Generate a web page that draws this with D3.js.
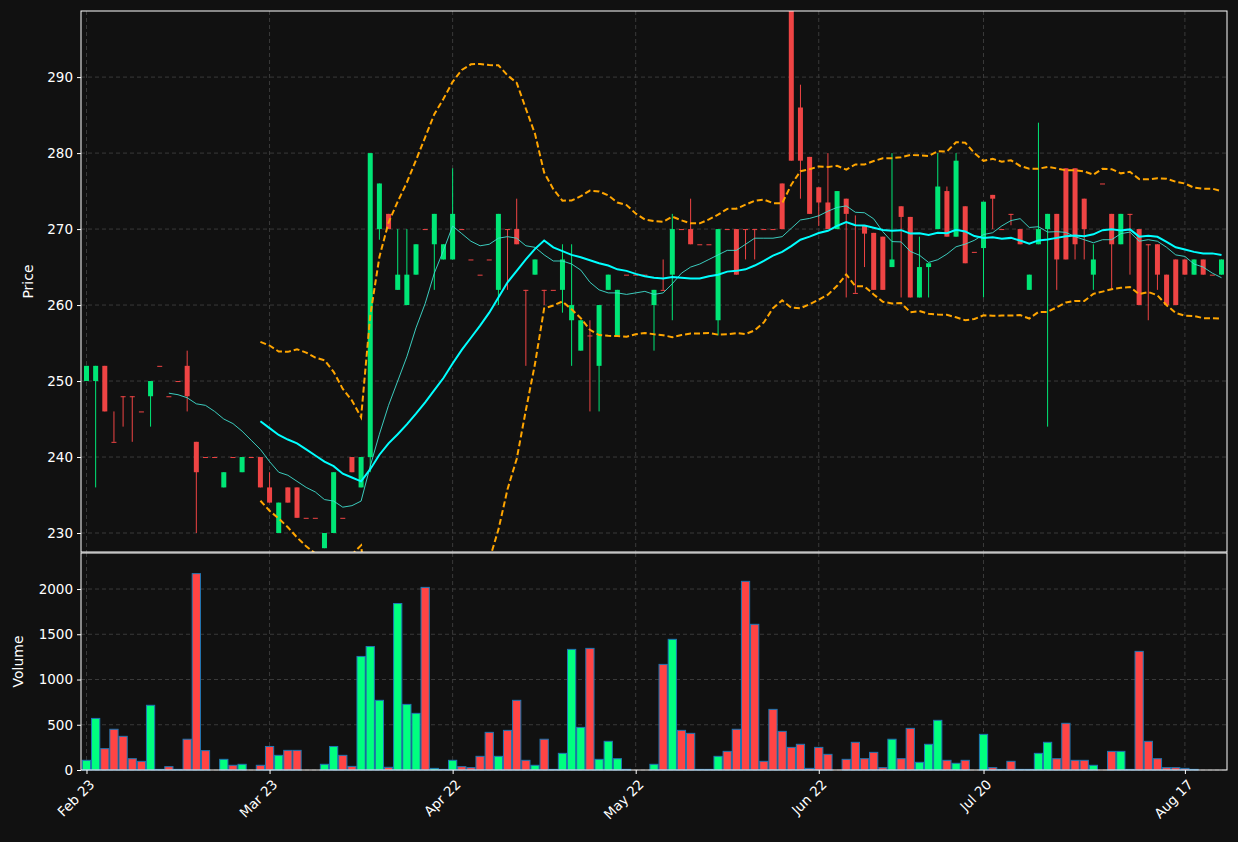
<!DOCTYPE html>
<html>
<head>
<meta charset="utf-8">
<script src="https://cdn.jsdelivr.net/npm/d3@7"></script>
<style>
  body { margin: 0; background: #111111; }
  svg text { font-family: "DejaVu Sans", sans-serif; fill: #ffffff; }
</style>
</head>
<body>
<div id="chart"></div>
<script>
// daily bars
const opens = [250,250,252,242,248,248,246,248,252,248,250,252,242,240,240,236,240,238,240,240,
  236,230,236,236,232,232,228,230,232,240,236,240,270,272,262,260,264,270,268,266,
  266,270,266,264,266,262,270,270,262,264,262,262,262,258,254,256,252,262,256,264,
  264,264,260,262,264,270,270,268,268,258,270,270,270,270,270,270,276,299,286,279.5,
  275.5,273.5,270,274,261.6,270.5,269.5,269,265,273,271.6,261,265,270,275,269,273,267,267.5,274.5,
  270,272,270,262,268,270,272,278,278,274,264,276,272,268,272,270,268,268,264,266,
  266,264,266,264,264];
const highs = [252,252,252,246,248,248,246,250,252,248,250,254,242,240,240,238,240,240,240,240,
  238,234,236,236,232,232,230,238,232,240,240,280,276,272,270,270,268,270,272,268,
  278,270,266,264,266,272,270,274,262,266,262,262,268,268,258,258,260,264,262,264,
  264,264,262,266,272,270,274,268,268,270,270,270,270,270,270,270,276,299,289,279.5,
  275.5,280,275,274,271.8,270.5,269.5,269,280,273,271.6,269,265.5,280,275.6,280,273,267,273.6,274.5,
  270,272,270,264,284,272,272,278,278,274,268,276,272,272,272,270,268,268,264,266,
  266,266,266,264,266];
const lows = [250,236,246,242,244,242,246,244,252,248,250,246,230,240,240,236,240,238,240,236,
  234,230,234,232,232,232,228,230,232,238,236,238,268.6,270,262,260,264,270,262,266,
  266,270,266,264,266,260,262,268,252,264,260,262,259,252,254,246,246,262,256,264,
  264,264,254,262,258,270,268,268,268,256,270,264,266,266,270,270,270,279,274,272,
  270.4,270,270,261,261.6,265,262,262,265,261,261,261,261,270,269,269,265.5,267,261,270,
  270,270.5,268,262,268,244,262,266,266,266,262,276,262,268,264,260,258,262,260,260,
  264,264,264,264,264];
const closes = [252,252,246,242,248,248,246,250,252,248,250,248,238,240,240,238,240,240,240,236,
  234,234,234,232,232,232,230,238,232,238,240,280,276,270,264,264,268,270,272,268,
  272,270,266,264,266,272,270,268,262,266,262,262,266,260,258,256,260,264,262,264,
  264,264,262,262,270,270,268,268,268,270,270,264,270,270,270,270,270,279,279,272,
  273.5,270,275,272,261.6,269.4,262,262,266,271.6,261,265,265.5,275.6,269,279,265.5,267,273.6,274,
  270,272,268,264,270,272,266,266,268,270,266,276,268,272,272,260,268,264,260,260,
  264,266,264,264,266];
const volumes = [107,570,236,450,372,125,96,715,7,37,7,340,2170,214,0,118,52,63,0,52,
  260,162,217,217,0,0,63,260,162,40,1255,1365,770,30,1840,725,626,2018,18,7,
  107,37,26,151,416,151,438,770,107,52,340,7,184,1333,471,1344,118,317,125,7,
  0,0,63,1167,1444,438,405,7,7,151,206,450,2085,1610,96,670,427,250,284,18,
  250,173,0,118,306,125,195,26,340,125,460,85,284,549,107,74,107,0,394,26,
  7,96,7,7,184,306,125,516,107,107,52,0,206,206,7,1311,317,125,26,26,
  18,7,0,0,0];
const tickIdx = [0, 20, 40, 60, 80, 98, 120];
const tickLabels = ['Feb 23', 'Mar 23', 'Apr 22', 'May 22', 'Jun 22', 'Jul 20', 'Aug 17'];
const priceTicks = [230, 240, 250, 260, 270, 280, 290];
const volumeTicks = [0, 500, 1000, 1500, 2000];

const W = 1238, H = 842;
const left = 81, right = 1227;
const pTop = 11, pBottom = 552, vTop = 553, vBottom = 770;
const n = closes.length;

const up = i => closes[i] > opens[i];
const GREEN = '#00e676', RED = '#ef4444';

function sma(arr, p) {
  return arr.map((d, i) => i < p - 1 ? null : d3.mean(arr.slice(i - p + 1, i + 1)));
}
function band(arr, p, k) {
  return arr.map((d, i) => {
    if (i < p - 1) return null;
    const s = arr.slice(i - p + 1, i + 1);
    const m = d3.mean(s);
    const sd = Math.sqrt(d3.mean(s, v => (v - m) * (v - m)));
    return [m + k * sd, m - k * sd];
  });
}
const ma10 = sma(closes, 10);
const ma20 = sma(closes, 20);
const bb = band(closes, 20, 2);

const x = d3.scaleLinear().domain([-0.6, n - 0.4]).range([left, right]);
const yP = d3.scaleLinear().domain([227.5, 298.7]).range([pBottom, pTop]);
const yV = d3.scaleLinear().domain([0, 2398]).range([vBottom, vTop]);
const step = x(1) - x(0);

const svg = d3.select('#chart').append('svg').attr('width', W).attr('height', H);
svg.append('rect').attr('width', W).attr('height', H).attr('fill', '#111111');

svg.append('clipPath').attr('id', 'clipP').append('rect')
  .attr('x', left).attr('y', pTop).attr('width', right - left).attr('height', pBottom - pTop);

// grids
function grid(g, yScale, ticks, top, bottom) {
  g.selectAll('.hg').data(ticks).join('line')
    .attr('x1', left).attr('x2', right)
    .attr('y1', d => yScale(d)).attr('y2', d => yScale(d))
    .attr('stroke', '#3a3a3a').attr('stroke-dasharray', '4,3');
  g.selectAll('.vg').data(tickIdx).join('line').attr('class', 'vg')
    .attr('x1', d => x(d)).attr('x2', d => x(d))
    .attr('y1', top).attr('y2', bottom)
    .attr('stroke', '#3a3a3a').attr('stroke-dasharray', '4,3');
}
grid(svg.append('g'), yP, priceTicks, pTop, pBottom);
grid(svg.append('g'), yV, volumeTicks, vTop, vBottom);

// candles
const price = svg.append('g').attr('clip-path', 'url(#clipP)');
const cw = 5;
price.selectAll('.wick').data(d3.range(n)).join('line')
  .attr('x1', i => x(i)).attr('x2', i => x(i))
  .attr('y1', i => yP(highs[i])).attr('y2', i => yP(lows[i]))
  .attr('stroke', i => up(i) ? GREEN : RED).attr('stroke-width', 1);
price.selectAll('.body').data(d3.range(n)).join('rect')
  .attr('x', i => x(i) - cw / 2).attr('width', cw)
  .attr('y', i => yP(Math.max(opens[i], closes[i])))
  .attr('height', i => Math.max(1, Math.abs(yP(opens[i]) - yP(closes[i]))))
  .attr('fill', i => up(i) ? GREEN : RED);

// indicators
const lineOf = acc => d3.line().defined((d, i) => acc(i) != null).x((d, i) => x(i)).y((d, i) => yP(acc(i)));
price.append('path').datum(closes).attr('d', lineOf(i => bb[i] && bb[i][0]))
  .attr('fill', 'none').attr('stroke', '#ffa500').attr('stroke-width', 2).attr('stroke-dasharray', '6,3');
price.append('path').datum(closes).attr('d', lineOf(i => bb[i] && bb[i][1]))
  .attr('fill', 'none').attr('stroke', '#ffa500').attr('stroke-width', 2).attr('stroke-dasharray', '6,3');
price.append('path').datum(closes).attr('d', lineOf(i => ma10[i]))
  .attr('fill', 'none').attr('stroke', '#40e0d0').attr('stroke-width', 0.9);
price.append('path').datum(closes).attr('d', lineOf(i => ma20[i]))
  .attr('fill', 'none').attr('stroke', '#00ffff').attr('stroke-width', 2);

// volume
svg.append('g').selectAll('rect').data(d3.range(n)).join('rect')
  .attr('x', i => x(i) - step * 0.45).attr('width', step * 0.9)
  .attr('y', i => yV(volumes[i])).attr('height', i => vBottom - yV(volumes[i]))
  .attr('fill', i => up(i) ? '#00ff7f' : '#ff4444')
  .attr('stroke', '#1f77b4').attr('stroke-width', 1);

// frames
[[pTop, pBottom], [vTop, vBottom]].forEach(([t, b]) => {
  svg.append('rect').attr('x', left).attr('y', t).attr('width', right - left).attr('height', b - t)
    .attr('fill', 'none').attr('stroke', '#ffffff').attr('stroke-width', 1);
});

// axes
const styleAxis = g => {
  g.select('.domain').remove();
  g.selectAll('.tick line').attr('stroke', '#ffffff');
  g.selectAll('.tick text').attr('fill', '#ffffff').style('font-size', '13.5px');
};
svg.append('g').attr('transform', `translate(${left},0)`)
  .call(d3.axisLeft(yP).tickValues(priceTicks).tickSize(4).tickPadding(4)).call(styleAxis);
svg.append('g').attr('transform', `translate(${left},0)`)
  .call(d3.axisLeft(yV).tickValues(volumeTicks).tickFormat(d3.format('d')).tickSize(4).tickPadding(4)).call(styleAxis);
const xa = svg.append('g').attr('transform', `translate(0,${vBottom})`)
  .call(d3.axisBottom(x).tickValues(tickIdx).tickFormat((d, i) => tickLabels[i]).tickSize(4))
  .call(styleAxis);
xa.selectAll('.tick text')
  .attr('text-anchor', 'end').attr('dy', '0.35em').attr('dx', '0')
  .attr('transform', 'translate(5,12) rotate(-45)').attr('y', 0).attr('x', 0);

svg.append('text').attr('transform', `translate(33,${(pTop + pBottom) / 2}) rotate(-90)`)
  .attr('text-anchor', 'middle').style('font-size', '14px').text('Price');
svg.append('text').attr('transform', `translate(23,${(vTop + vBottom) / 2}) rotate(-90)`)
  .attr('text-anchor', 'middle').style('font-size', '14px').text('Volume');
</script>
</body>
</html>
